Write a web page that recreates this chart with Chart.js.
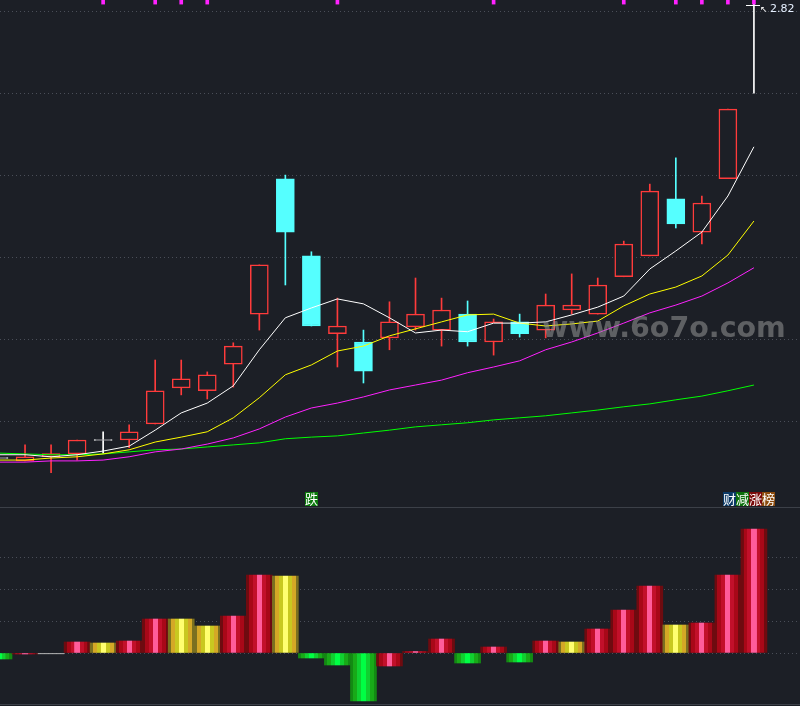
<!DOCTYPE html>
<html>
<head>
<meta charset="utf-8">
<script src="https://cdn.jsdelivr.net/npm/chart.js@4/dist/chart.umd.min.js"></script>
<style>
  body { margin: 0; background: #1c1f26; width: 800px; height: 706px; overflow: hidden; position: relative; font-family: "Noto Sans CJK SC", "DejaVu Sans", sans-serif; }
  #top { position: absolute; left: 0; top: 0; }
  #bottom { position: absolute; left: 0; top: 508px; }
  .sep { position: absolute; left: 0; width: 800px; height: 1px; background: #3c4048; }
  .tag { position: absolute; top: 492px; height: 14px; line-height: 14px; font-size: 13px; color: #fff; }
  .tag span { display: inline-block; width: 13px; text-align: center; }
  #wm { position: absolute; left: 542px; top: 311px; font-family: "DejaVu Sans", sans-serif; font-weight: bold; font-size: 28.5px; color: rgba(150,150,150,0.55); }
  #price { position: absolute; left: 770px; top: 2px; font-family: "DejaVu Sans", sans-serif; font-size: 11px; color: #e6f0ff; }
</style>
</head>
<body>
<canvas id="top" width="800" height="506"></canvas>
<canvas id="bottom" width="800" height="198"></canvas>
<div class="sep" style="top:507px"></div>
<div class="sep" style="top:704px"></div>
<div id="wm">www.6o7o.com</div>
<div id="price">2.82</div>
<div style="position:absolute;left:746px;top:5px;width:14px;height:1px;background:#fff"></div>
<div style="position:absolute;left:760px;top:4px;font-size:9px;color:#fff;font-family:'DejaVu Sans'">↖</div>
<div class="tag" style="left:305px"><span style="background:#0b7a0b">跌</span></div>
<div class="tag" style="left:723px"><span style="background:#0c3a66">财</span><span style="background:#0b6e0b">减</span><span style="background:#7a0a0a">涨</span><span style="background:#8a4a0c">榜</span></div>
<script>
// candles: open, high, low, close
const opens  = [1.712,1.705,1.715,1.722,1.756,1.756,1.795,1.883,1.876,1.941,2.063,2.393,2.205,2.015,1.995,2.005,2.032,2.024,2.063,1.995,2.044,2.024,2.073,2.063,2.154,2.205,2.344,2.263,2.393,2.602];
const highs  = [1.727,1.744,1.744,1.756,1.776,1.793,1.951,1.951,1.922,1.993,2.183,2.402,2.215,2.102,2.024,2.093,2.151,2.102,2.095,2.051,2.063,2.112,2.161,2.151,2.241,2.380,2.444,2.351,2.563,2.820];
const lows   = [1.693,1.705,1.676,1.707,1.724,1.737,1.795,1.866,1.856,1.885,2.024,2.134,2.034,1.934,1.895,1.976,2.024,1.985,1.985,1.963,2.007,2.005,2.063,2.063,2.154,2.205,2.273,2.234,2.393,2.602];
const closes = [1.712,1.715,1.723,1.756,1.756,1.776,1.876,1.905,1.915,1.985,2.183,2.263,2.034,2.034,1.924,2.044,2.063,2.073,1.995,2.044,2.015,2.085,2.085,2.134,2.234,2.363,2.283,2.334,2.563,2.602];

const ma5  = [1.720,1.720,1.715,1.720,1.729,1.741,1.780,1.822,1.846,1.888,1.976,2.054,2.078,2.100,2.088,2.054,2.017,2.024,2.020,2.041,2.041,2.044,2.061,2.080,2.107,2.173,2.217,2.263,2.351,2.471];
const ma10 = [1.707,1.707,1.712,1.715,1.722,1.732,1.751,1.763,1.776,1.810,1.859,1.915,1.939,1.973,1.985,2.010,2.027,2.044,2.061,2.063,2.041,2.034,2.039,2.046,2.083,2.112,2.129,2.156,2.207,2.290];
const ma20 = [1.702,1.702,1.705,1.705,1.707,1.715,1.727,1.734,1.746,1.761,1.783,1.812,1.834,1.846,1.861,1.878,1.890,1.902,1.920,1.934,1.949,1.976,1.995,2.017,2.041,2.066,2.085,2.107,2.139,2.176];
const ma60 = [1.724,1.722,1.720,1.720,1.722,1.727,1.732,1.734,1.739,1.744,1.749,1.759,1.763,1.766,1.773,1.780,1.788,1.793,1.798,1.805,1.810,1.815,1.822,1.829,1.837,1.844,1.854,1.863,1.876,1.890];

const markIdx = [4,6,7,8,13,19,24,26,27,28,29];
const priceTicks = [1.8,2.0,2.2,2.4,2.6,2.8];

const volVals  = [-6,-1,-0.8,11,10,12,34,34,27,37,78,77,-5,-12,-48,-13,1.5,14,-10,6,-9,12,11,24,43,67,28,30,78,124];
const volTypes = ['g','r','n','r','y','r','r','y','y','r','r','y','g','g','g','r','r','r','g','r','g','r','y','r','r','r','y','r','r','r'];
const volTicks = [0,32,63.5,95];

const BG = '#1c1f26';
const UP = '#ff3b3b', DOWN = '#55ffff', FLAT = '#ffffff';
const idx = opens.map((_, i) => i);
const candleColor = i => closes[i] > opens[i] ? UP : (closes[i] < opens[i] ? DOWN : FLAT);

const xScale = { type: 'linear', min: 0.038, max: 30.77, display: false, offset: false };
const gridY = (ticks) => ({
  display: true,
  afterBuildTicks: s => { s.ticks = ticks.map(v => ({ value: v })); },
  ticks: { display: false },
  grid: { color: '#4a4e58', drawTicks: false, lineWidth: 1 },
  border: { display: false, dash: [1, 3] }
});

const maLine = (data, color) => ({
  type: 'line', data: data.map((v, i) => ({ x: i, y: v })), borderColor: color,
  borderWidth: 1, pointRadius: 0, tension: 0, order: 0
});

new Chart(document.getElementById('top'), {
  data: {
    datasets: [
      { type: 'bar', grouped: false, order: 3, barThickness: 1,
        data: idx.map(i => ({ x: i, y: [lows[i], highs[i]] })),
        backgroundColor: idx.map(candleColor) },
      { type: 'bar', grouped: false, order: 2, barThickness: 18, borderSkipped: false, borderWidth: 1.5,
        data: idx.filter(i => i < 29).map(i => {
          let lo = Math.min(opens[i], closes[i]), hi = Math.max(opens[i], closes[i]);
          if (hi - lo < 0.002) { lo -= 0.0008; hi += 0.0008; }
          return { x: i, y: [lo, hi] };
        }),
        borderColor: idx.map(candleColor),
        backgroundColor: idx.map(i => closes[i] < opens[i] ? DOWN : BG) },
      { type: 'bar', grouped: false, order: 1, barThickness: 3,
        data: markIdx.map(i => ({ x: i, y: [2.819, 2.84] })), backgroundColor: '#ff22ff' },
      maLine(ma5, '#ffffff'), maLine(ma10, '#ffff00'), maLine(ma20, '#ff22ff'), maLine(ma60, '#00ff00')
    ]
  },
  options: {
    responsive: false, animation: false,
    layout: { padding: 0 },
    scales: { x: xScale, y: Object.assign({ min: 1.595, max: 2.829 }, gridY(priceTicks)) },
    plugins: { legend: { display: false }, tooltip: { enabled: false } }
  }
});

const stripes = {
  r: ['#6e0b10','#a80818','#c2102a','#ff5c9a','#c2102a','#a80818','#6e0b10'],
  y: ['#7a7020','#d4a826','#c8c820','#ffff70','#c8c820','#d4a826','#7a7020'],
  g: ['#138a13','#18aa18','#10d030','#00ff44','#10d030','#18aa18','#138a13'],
  n: ['#bbbbbb','#bbbbbb']
};
const widths = [0.1, 0.15, 0.15, 0.2, 0.15, 0.15, 0.1];

new Chart(document.getElementById('bottom'), {
  type: 'bar',
  data: {
    datasets: [{
      data: volVals.map((v, i) => ({ x: i, y: v })),
      barThickness: 26,
      backgroundColor: ctx => {
        const chart = ctx.chart;
        if (!chart.chartArea) return '#a80818';
        const t = volTypes[ctx.dataIndex];
        const xc = chart.scales.x.getPixelForValue(ctx.dataIndex);
        const g = chart.ctx.createLinearGradient(xc - 13, 0, xc + 13, 0);
        const cols = stripes[t];
        if (cols.length === 2) { g.addColorStop(0, cols[0]); g.addColorStop(1, cols[1]); return g; }
        let pos = 0;
        cols.forEach((c, k) => {
          g.addColorStop(pos, c);
          pos += widths[k];
          g.addColorStop(Math.min(pos, 1) - 0.001, c);
        });
        return g;
      }
    }]
  },
  options: {
    responsive: false, animation: false,
    layout: { padding: 0 },
    scales: { x: xScale, y: Object.assign({ min: -53, max: 145 }, gridY(volTicks)) },
    plugins: { legend: { display: false }, tooltip: { enabled: false } }
  }
});
</script>
</body>
</html>
